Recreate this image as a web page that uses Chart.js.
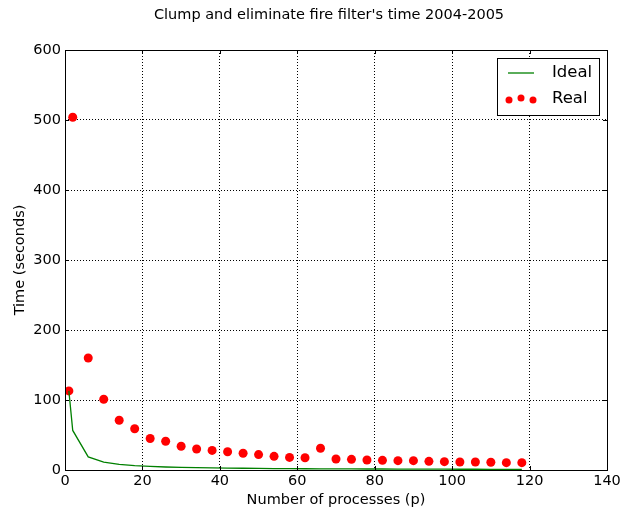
<!DOCTYPE html>
<html>
<head>
<meta charset="utf-8">
<script src="https://cdn.jsdelivr.net/npm/chart.js@4/dist/chart.umd.min.js"></script>
<style>
  html, body { margin: 0; padding: 0; background: #fff; }
  #wrap { width: 641px; height: 515px; }
</style>
</head>
<body>
<div id="wrap"><canvas id="timeChart"></canvas></div>
<script>
const chartTitle = "Clump and eliminate fire filter's time 2004-2005";
const processes = [1, 2, 6, 10, 14, 18, 22, 26, 30, 34, 38, 42, 46, 50, 54, 58, 62, 66, 70, 74, 78, 82, 86, 90, 94, 98, 102, 106, 110, 114, 118];
const realTimes = [113, 504, 160, 101, 71, 59, 45, 41, 34, 30, 28, 26, 24, 22, 19.5, 18, 17.5, 31, 15.7, 15.2, 14.3, 13.8, 13.3, 13.3, 12.4, 11.9, 11.4, 11.4, 11, 10.5, 10.5];
const idealTimes = [113, 56.5, 18.8, 11.3, 8.1, 6.3, 5.1, 4.3, 3.8, 3.3, 3.0, 2.7, 2.5, 2.3, 2.1, 1.9, 1.8, 1.7, 1.6, 1.5, 1.4, 1.4, 1.3, 1.3, 1.2, 1.2, 1.1, 1.1, 1.0, 1.0, 1.0];
const xTicks = [0, 20, 40, 60, 80, 100, 120, 140];
const yTicks = [0, 100, 200, 300, 400, 500, 600];

const FONT = 'DejaVu Sans';
const FS = 14.5;

// frame, inward tick marks, title and the legend box, matplotlib style
const framePlugin = {
  id: 'frame',
  afterDatasetsDraw(chart) {
    const { ctx, chartArea: a, scales } = chart;
    ctx.save();
    ctx.strokeStyle = '#000';
    ctx.lineWidth = 1;
    ctx.strokeRect(Math.round(a.left) + 0.5, Math.round(a.top) + 0.5,
      Math.round(a.right - a.left), Math.round(a.bottom - a.top));
    ctx.beginPath();
    xTicks.forEach(v => {
      const x = Math.round(scales.x.getPixelForValue(v)) + 0.5;
      ctx.moveTo(x, a.bottom); ctx.lineTo(x, a.bottom - 4);
      ctx.moveTo(x, a.top); ctx.lineTo(x, a.top + 4);
    });
    yTicks.forEach(v => {
      const y = Math.round(scales.y.getPixelForValue(v)) + 0.5;
      ctx.moveTo(a.left, y); ctx.lineTo(a.left + 4, y);
      ctx.moveTo(a.right, y); ctx.lineTo(a.right - 4, y);
    });
    ctx.stroke();

    // title
    ctx.fillStyle = '#000';
    ctx.font = FS + 'px "' + FONT + '"';
    ctx.textAlign = 'center';
    ctx.textBaseline = 'middle';
    ctx.fillText(chartTitle, (a.left + a.right) / 2 - 7, 15);

    // legend
    const bx = 497, by = 58, bw = 102, bh = 57;
    ctx.fillStyle = '#fff';
    ctx.fillRect(bx, by, bw, bh);
    ctx.strokeRect(bx + 0.5, by + 0.5, bw, bh);
    ctx.strokeStyle = '#008000';
    ctx.lineWidth = 1.3;
    ctx.beginPath();
    ctx.moveTo(508, 73); ctx.lineTo(534, 73);
    ctx.stroke();
    ctx.fillStyle = '#ff0000';
    [509, 521, 533].forEach((px, i) => {
      ctx.beginPath();
      ctx.arc(px, i === 1 ? 98 : 100, 3.5, 0, Math.PI * 2);
      ctx.fill();
    });
    ctx.fillStyle = '#000';
    ctx.font = '16.5px "' + FONT + '"';
    ctx.textAlign = 'left';
    ctx.fillText(chart.data.datasets[0].label, 552, 73);
    ctx.fillText(chart.data.datasets[1].label, 552, 99);
    ctx.restore();
  }
};

const ctx = document.getElementById('timeChart').getContext('2d');

new Chart(ctx, {
  type: 'line',
  data: {
    datasets: [{
      label: 'Ideal',
      data: processes.map((p, i) => ({ x: p, y: idealTimes[i] })),
      borderColor: '#008000',
      borderWidth: 1.3,
      pointRadius: 0,
      tension: 0,
      fill: false
    }, {
      label: 'Real',
      data: processes.map((p, i) => ({ x: p, y: realTimes[i] })),
      showLine: false,
      backgroundColor: '#ff0000',
      borderColor: '#ff0000',
      borderWidth: 0,
      pointRadius: 4.5
    }]
  },
  options: {
    responsive: true,
    maintainAspectRatio: false,
    animation: false,
    layout: { padding: { left: 0, right: 34, top: 50, bottom: 0 } },
    plugins: {
      legend: { display: false },
      tooltip: { enabled: false },
      title: { display: false }
    },
    scales: {
      x: {
        type: 'linear',
        min: 0,
        max: 140,
        afterBuildTicks: s => { s.ticks = xTicks.map(v => ({ value: v })); },
        afterFit: s => { s.height = 45; },
        grid: { color: '#000', lineWidth: 1, drawTicks: false, tickLength: 0 },
        border: { display: false, dash: [1, 2] },
        ticks: { color: '#000', padding: 3, font: { family: FONT, size: FS } },
        title: {
          display: true,
          text: 'Number of processes (p)',
          color: '#000',
          font: { family: FONT, size: FS, lineHeight: 1.2 },
          padding: { top: 0, bottom: 6.3 }
        }
      },
      y: {
        type: 'linear',
        min: 0,
        max: 600,
        afterBuildTicks: s => { s.ticks = yTicks.map(v => ({ value: v })); },
        afterFit: s => { s.width = 65; },
        grid: { color: '#000', lineWidth: 1, drawTicks: false, tickLength: 0 },
        border: { display: false, dash: [1, 2] },
        ticks: { color: '#000', padding: 4, font: { family: FONT, size: FS } },
        title: {
          display: true,
          text: 'Time (seconds)',
          color: '#000',
          font: { family: FONT, size: FS, lineHeight: 1.2 },
          padding: { top: 11.3, bottom: 0 }
        }
      }
    }
  },
  plugins: [framePlugin]
});
</script>
</body>
</html>
